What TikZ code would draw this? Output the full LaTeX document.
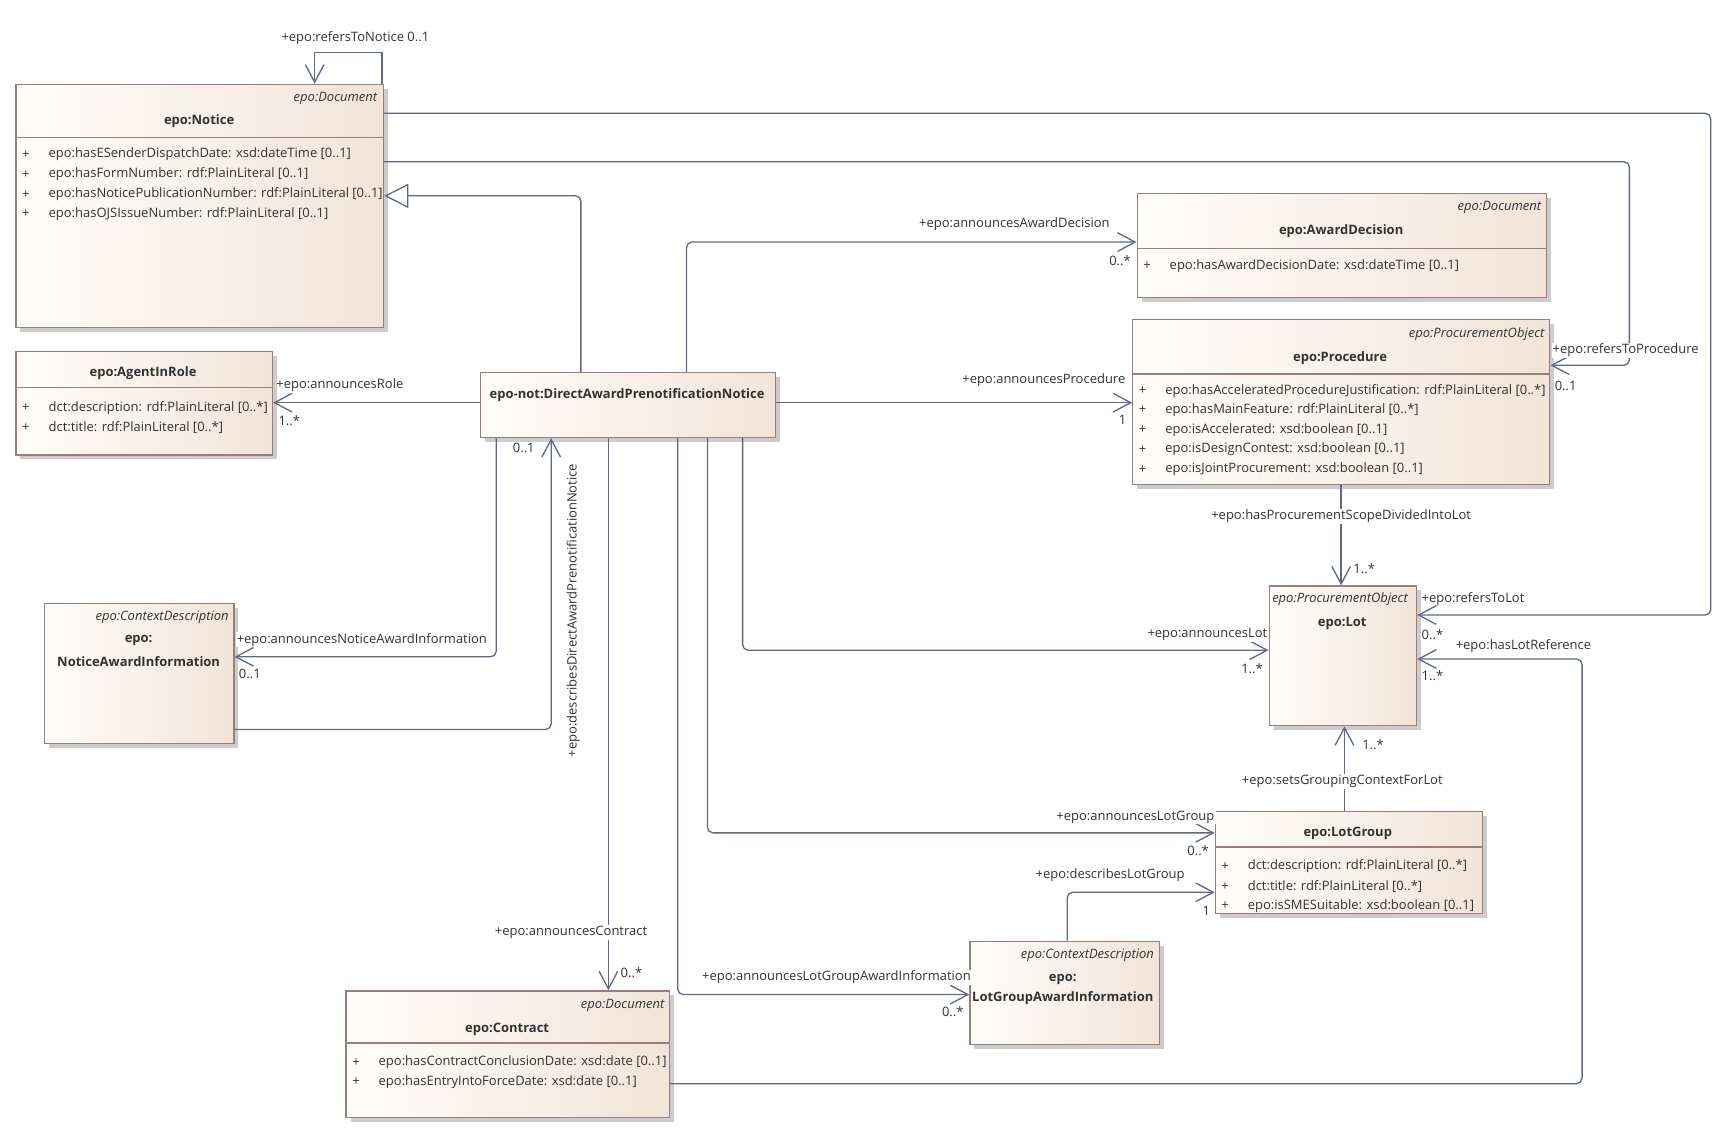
\documentclass[tikz,border=0pt]{standalone}
\usepackage{fontspec}
\setmainfont{Open Sans}
\usetikzlibrary{shadows,arrows.meta,calc}
\definecolor{lineC}{RGB}{95,105,135}
\definecolor{boxB}{RGB}{155,125,125}
\definecolor{boxL}{RGB}{255,253,251}
\definecolor{boxR}{RGB}{242,228,216}
\definecolor{txt}{RGB}{50,50,50}
\begin{document}
\begin{tikzpicture}[x=1pt,y=-1pt,
  cls/.style={rectangle, draw=boxB, line width=1.2pt, left color=boxL, right color=boxR,
    drop shadow={shadow xshift=4pt, shadow yshift=-4pt, fill=black!20, opacity=1},
    inner sep=0pt, anchor=north west},
  sepl/.style={draw=boxB, line width=1.2pt},
  conn/.style={draw=lineC, line width=1.2pt, rounded corners=5pt},
  oarr/.style={-{Straight Barb[length=16pt,width=17pt,line width=1.2pt]}},
  garr/.style={-{Triangle[open,length=22pt,width=22pt,line width=1.2pt,fill=white]}},
  lbl0/.style={font=\fontsize{11.8}{13}\selectfont, text=txt, inner sep=1pt},
  lbl/.style={lbl0, yshift=-1.5pt},
  lblw/.style={lbl, fill=white},
  stereo/.style={font=\fontsize{11.8}{13}\selectfont\itshape, text=txt, inner sep=0pt, yshift=-1.5pt},
  cname/.style={font=\fontsize{11.8}{13}\selectfont\bfseries, text=txt, inner sep=0pt, yshift=-1.5pt},
  attr/.style={font=\fontsize{11.8}{13}\selectfont, text=txt, inner sep=0pt, anchor=west, yshift=-1.5pt},
]
\useasboundingbox[fill=white] (0,0) rectangle (1567,1028);

% ---------- classes ----------
\node[cls, minimum width=334pt, minimum height=221pt] (notice) at (14,76) {};
\node[cls, minimum width=233pt, minimum height=94pt] (agent) at (14,319) {};
\node[cls, minimum width=268pt, minimum height=59pt] (dapn) at (436,338) {};
\node[cls, minimum width=172pt, minimum height=127pt] (nai) at (40,548) {};
\node[cls, minimum width=372pt, minimum height=95pt] (award) at (1033,175) {};
\node[cls, minimum width=379pt, minimum height=150pt] (proc) at (1029,290) {};
\node[cls, minimum width=134pt, minimum height=127pt] (lot) at (1153,532) {};
\node[cls, minimum width=243pt, minimum height=93pt] (lotgroup) at (1104,737) {};
\node[cls, minimum width=172pt, minimum height=94pt] (lgai) at (881,855) {};
\node[cls, minimum width=294pt, minimum height=115pt] (contract) at (314,900) {};

% separators
\draw[sepl] (14,125) -- (348,125);
\draw[sepl] (14,352) -- (247,352);
\draw[sepl] (1033,226) -- (1405,226);
\draw[sepl] (1029,340) -- (1408,340);
\draw[sepl] (1104,770) -- (1347,770);
\draw[sepl] (314,948) -- (608,948);

% Notice
\node[stereo, anchor=east] (noticeS) at (343,88) {epo:Document};
\node[cname] (noticeN) at (181,109) {epo:Notice};
\node[attr] (noticeP1) at (20,139) {+};
\node[attr] (noticeA1) at (44,139) {epo:hasESenderDispatchDate: xsd:dateTime [0..1]};
\node[attr] (noticeP2) at (20,157) {+};
\node[attr] (noticeA2) at (44,157) {epo:hasFormNumber: rdf:PlainLiteral [0..1]};
\node[attr] (noticeP3) at (20,175) {+};
\node[attr] (noticeA3) at (44,175) {epo:hasNoticePublicationNumber: rdf:PlainLiteral [0..1]};
\node[attr] (noticeP4) at (20,193) {+};
\node[attr] (noticeA4) at (44,193) {epo:hasOJSIssueNumber: rdf:PlainLiteral [0..1]};

% AgentInRole
\node[cname] (agentN) at (130,338) {epo:AgentInRole};
\node[attr] (agentP1) at (20,369) {+};
\node[attr] (agentA1) at (44,369) {dct:description: rdf:PlainLiteral [0..*]};
\node[attr] (agentP2) at (20,387) {+};
\node[attr] (agentA2) at (44,387) {dct:title: rdf:PlainLiteral [0..*]};

% DAPN
\node[cname] (dapnN) at (570,358) {epo-not:DirectAwardPrenotificationNotice};

% NoticeAwardInformation
\node[stereo, anchor=east] (naiS) at (208,560) {epo:ContextDescription};
\node[cname] (naiN1) at (126,581) {epo:};
\node[cname] (naiN2) at (126,600) {NoticeAwardInformation};

% AwardDecision
\node[stereo, anchor=east] (awardS) at (1401,187) {epo:Document};
\node[cname] (awardN) at (1219,209) {epo:AwardDecision};
\node[attr] (awardP1) at (1039,240) {+};
\node[attr] (awardA1) at (1063,240) {epo:hasAwardDecisionDate: xsd:dateTime [0..1]};

% Procedure
\node[stereo, anchor=east] (procS) at (1404,302) {epo:ProcurementObject};
\node[cname] (procN) at (1218,324) {epo:Procedure};
\node[attr] (procP1) at (1035,354) {+};
\node[attr] (procA1) at (1059,354) {epo:hasAcceleratedProcedureJustification: rdf:PlainLiteral [0..*]};
\node[attr] (procP2) at (1035,371) {+};
\node[attr] (procA2) at (1059,371) {epo:hasMainFeature: rdf:PlainLiteral [0..*]};
\node[attr] (procP3) at (1035,389) {+};
\node[attr] (procA3) at (1059,389) {epo:isAccelerated: xsd:boolean [0..1]};
\node[attr] (procP4) at (1035,407) {+};
\node[attr] (procA4) at (1059,407) {epo:isDesignContest: xsd:boolean [0..1]};
\node[attr] (procP5) at (1035,425) {+};
\node[attr] (procA5) at (1059,425) {epo:isJointProcurement: xsd:boolean [0..1]};

% Lot
\node[stereo] (lotS) at (1218,543) {epo:ProcurementObject};
\node[cname] (lotN) at (1220,565) {epo:Lot};

% LotGroup
\node[cname] (lotgroupN) at (1225,756) {epo:LotGroup};
\node[attr] (lgP1) at (1110,786) {+};
\node[attr] (lgA1) at (1134,786) {dct:description: rdf:PlainLiteral [0..*]};
\node[attr] (lgP2) at (1110,804) {+};
\node[attr] (lgA2) at (1134,804) {dct:title: rdf:PlainLiteral [0..*]};
\node[attr] (lgP3) at (1110,822) {+};
\node[attr] (lgA3) at (1134,822) {epo:isSMESuitable: xsd:boolean [0..1]};

% LotGroupAwardInformation
\node[stereo, anchor=east] (lgaiS) at (1049,867) {epo:ContextDescription};
\node[cname] (lgaiN1) at (966,889) {epo:};
\node[cname] (lgaiN2) at (966,906) {LotGroupAwardInformation};

% Contract
\node[stereo, anchor=east] (contractS) at (604,912) {epo:Document};
\node[cname] (contractN) at (461,934) {epo:Contract};
\node[attr] (contractP1) at (320,964) {+};
\node[attr] (contractA1) at (344,964) {epo:hasContractConclusionDate: xsd:date [0..1]};
\node[attr] (contractP2) at (320,982) {+};
\node[attr] (contractA2) at (344,982) {epo:hasEntryIntoForceDate: xsd:date [0..1]};

% ---------- connectors ----------
% self loop refersToNotice
\draw[conn, oarr, rounded corners=0pt] ($(notice.north east)+(-2,0)$) -- ++(0,-28) -| ($(notice.north west)+(272,0)$);
% generalization
\draw[conn, garr] ($(dapn.north west)+(92,0)$) |- ($(notice.north east)+(0,102)$);
% announcesRole
\draw[conn, oarr] ($(dapn.north west)+(0,28)$) -- ($(agent.north east)+(0,47)$);
% announcesNoticeAwardInformation
\draw[conn, oarr] ($(dapn.south west)+(15,0)$) |- ($(nai.north east)+(0,49)$);
% describesDirectAwardPrenotificationNotice
\draw[conn, oarr] ($(nai.north east)+(0,115)$) -| ($(dapn.south west)+(65,0)$);
% announcesContract
\draw[conn, oarr] ($(dapn.south west)+(117,0)$) -- ($(contract.north west)+(239,0)$);
% announcesLotGroupAwardInformation
\draw[conn, oarr] ($(dapn.south west)+(180,0)$) |- ($(lgai.north west)+(0,49)$);
% announcesLotGroup
\draw[conn, oarr] ($(dapn.south west)+(207,0)$) |- ($(lotgroup.north west)+(0,20)$);
% announcesLot
\draw[conn, oarr] ($(dapn.south west)+(239,0)$) |- ($(lot.north west)+(0,59)$);
% announcesAwardDecision
\draw[conn, oarr] ($(dapn.north west)+(188,0)$) |- ($(award.north west)+(0,45)$);
% announcesProcedure
\draw[conn, oarr] ($(dapn.north east)+(0,28)$) -- ($(proc.north west)+(0,76)$);
% refersToLot
\draw[conn, oarr] ($(notice.north east)+(0,27)$) -- (1555,103) |- ($(lot.north east)+(0,27)$);
% refersToProcedure
\draw[conn, oarr] ($(notice.north east)+(0,71)$) -- (1481,147) |- ($(proc.north east)+(0,42)$);
% hasProcurementScopeDividedIntoLot
\draw[conn, oarr] ($(proc.south west)+(190,0)$) -- ($(lot.north west)+(66,0)$);
% setsGroupingContextForLot
\draw[conn, oarr] ($(lotgroup.north west)+(118,0)$) -- ($(lot.south west)+(69,0)$);
% describesLotGroup
\draw[conn, oarr] ($(lgai.north west)+(89,0)$) |- ($(lotgroup.north west)+(0,74)$);
% hasLotReference
\draw[conn, oarr] ($(contract.north east)+(0,85)$) -- (1438,985) |- ($(lot.north east)+(0,67)$);

% ---------- connector labels ----------
\node[lbl] (l1) at (323,33) {+epo:refersToNotice 0..1};
\node[lbl, anchor=west] (l2) at (250,349) {+epo:announcesRole};
\node[lbl, anchor=west] (l2m) at (252,381) {1..*};
\node[lblw, anchor=west] (l3) at (214,580) {+epo:announcesNoticeAwardInformation};
\node[lbl, anchor=west] (l3m) at (216,611) {0..1};
\node[lbl, anchor=west] (l4m) at (465,406) {0..1};
\node[lbl0, rotate=90] (l4) at (521,555) {+epo:describesDirectAwardPrenotificationNotice};
\node[lblw] (l5) at (519,846) {+epo:announcesContract};
\node[lbl, anchor=west] (l5m) at (563,883) {0..*};
\node[lblw, anchor=west] (l6) at (637,887) {+epo:announcesLotGroupAwardInformation};
\node[lbl, anchor=east] (l6m) at (877,918) {0..*};
\node[lblw, anchor=east] (l7) at (1105,741) {+epo:announcesLotGroup};
\node[lbl, anchor=east] (l7m) at (1100,772) {0..*};
\node[lblw, anchor=east] (l8) at (1153,575) {+epo:announcesLot};
\node[lbl, anchor=east] (l8m) at (1149,606) {1..*};
\node[lbl] (l9) at (922,202) {+epo:announcesAwardDecision};
\node[lbl, anchor=east] (l9m) at (1029,235) {0..*};
\node[lbl, anchor=east] (l10) at (1024,344) {+epo:announcesProcedure};
\node[lbl, anchor=east] (l10m) at (1025,380) {1};
\node[lbl, anchor=west] (l11) at (1291,543) {+epo:refersToLot};
\node[lbl, anchor=west] (l11m) at (1291,575) {0..*};
\node[lblw, anchor=west] (l12) at (1410,317) {+epo:refersToProcedure};
\node[lbl, anchor=west] (l12m) at (1412,349) {0..1};
\node[lblw] (l13) at (1219,468) {+epo:hasProcurementScopeDividedIntoLot};
\node[lbl, anchor=west] (l13m) at (1229,515) {1..*};
\node[lblw] (l14) at (1220,709) {+epo:setsGroupingContextForLot};
\node[lbl, anchor=west] (l14m) at (1237,675) {1..*};
\node[lbl] (l15) at (1009,794) {+epo:describesLotGroup};
\node[lbl, anchor=east] (l15m) at (1101,826) {1};
\node[lbl, anchor=west] (l16) at (1322,586) {+epo:hasLotReference};
\node[lbl, anchor=west] (l16m) at (1291,613) {1..*};
\end{tikzpicture}
\end{document}
